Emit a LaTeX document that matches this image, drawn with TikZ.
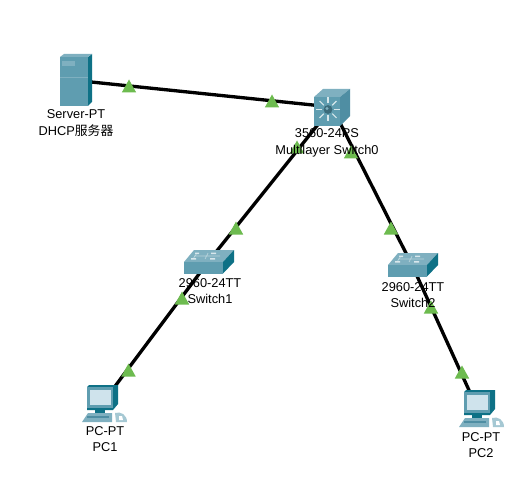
\documentclass[tikz,border=0pt]{standalone}
\usepackage{fontspec}
\setmainfont{Liberation Sans}
\newfontfamily\cjkf{Noto Sans CJK SC}
\definecolor{tealA}{HTML}{5F9DB0}
\definecolor{tealB}{HTML}{7FB0C0}
\definecolor{tealC}{HTML}{0E7186}
\definecolor{tealD}{HTML}{4F8EA3}
\definecolor{screenC}{HTML}{CFE3EC}
\definecolor{linkG}{HTML}{6DBB4F}
\tikzset{
  x=0.75pt,y=-0.75pt,
  anchorpt/.style={inner sep=0pt,minimum size=0pt,outer sep=0pt},
  linkline/.style={line width=2.5pt,black},
  devlabel/.style={align=center,font=\fontsize{9.6}{12.4}\selectfont,inner sep=0pt,text=black},
  lamp/.pic={\fill[linkG] (-7.2,6.5) -- (0,-6.5) -- (7.2,6.5) -- cycle;},
  serverpic/.pic={
    \fill[tealC] (11,-24) -- (15,-27) -- (15,21) -- (11,25) -- cycle;
    \fill[tealB] (-17,-24) -- (-13,-27) -- (15,-27) -- (11,-24) -- cycle;
    \fill[tealA] (-17,-24) rectangle (11,25);
    \fill[tealB] (-17,-4) rectangle (11,-3.2);
    \fill[tealB] (-15,-20) rectangle (-2,-15);
  },
  mlspic/.pic={
    \fill[tealB] (-18,-10) -- (-9,-18) -- (18,-18) -- (8,-10) -- cycle;
    \fill[tealD] (8,-10) -- (18,-18) -- (18,9) -- (8,19) -- cycle;
    \fill[tealA] (-18,-10) rectangle (8,19);
    \foreach \a in {0,45,...,315}{
      \draw[white!75!tealA,line width=0.8pt] ([shift={(\a:6)}]-4,2.5) -- ([shift={(\a:12)}]-4,2.5);
    }
    \fill[tealD!75!black] (-4,2.5) circle[radius=4.4];
    \fill[tealB] (-5,1.5) circle[radius=1.6];
  },
  swpic/.pic={
    \fill[tealB] (-24,0) -- (-14,-12) -- (26,-12) -- (15,0) -- cycle;
    \fill[tealC] (15,0) -- (26,-12) -- (26,0) -- (15,11.5) -- cycle;
    \fill[tealA] (-24,0) rectangle (15,11.5);
    \draw[white!45!tealB,line width=0.5pt] (-11,-9) -- (-15,-3) (0,-9) -- (-3,-3) (-14,-6) -- (12,-6);
    \fill[white!70!tealB] (-13,-9.5) rectangle (-9,-8) (3,-9.5) rectangle (8,-8) (-17,-4) rectangle (-12,-2.5) (2,-4) rectangle (7,-2.5);
  },
  pcpic/.pic={
    \fill[tealC] (-14,-18) -- (-12,-20) -- (17,-20) -- (17,-1) -- (12,5) -- (-14,5) -- cycle;
    \fill[tealA] (-14,-18) -- (12,-18) -- (12,3) -- (-14,3) -- cycle;
    \fill[screenC] (-11,-15) rectangle (10,0);
    \fill[tealC] (-6,3) rectangle (4,8);
    \fill[tealB] (-19,17) -- (-13,8) -- (11,8) -- (11,17) -- cycle;
    \fill[tealD] (-14,11) rectangle (8,13);
    \fill[tealB!70!white] (14,8) .. controls (20,6) and (26,10) .. (26,17) -- (15,17) -- cycle;
    \fill[white] (18,11) -- (21,11) -- (22,15) -- (18,15) -- cycle;
  }
}
\begin{document}
\begin{tikzpicture}
\useasboundingbox (0,0) rectangle (531,502);
\fill[white] (0,0) rectangle (531,502);
\node[anchorpt] (server) at (72,80) {};
\node[anchorpt] (mls) at (332,107) {};
\node[anchorpt] (sw1) at (208,262) {};
\node[anchorpt] (sw2) at (412,265) {};
\node[anchorpt] (pc1) at (101,405) {};
\node[anchorpt] (pc2) at (478,410) {};
\draw[linkline] (server) -- (mls);
\draw[linkline] (mls) -- (sw1);
\draw[linkline] (mls) -- (sw2);
\draw[linkline] (sw1) -- (pc1);
\draw[linkline] (sw2) -- (pc2);
\foreach \p in {(129,86),(272,101),(297,147),(236,228),(351,152),(391,228),(182,298),(128.5,370),(431,307),(462,372)}{
  \path \p pic {lamp};
}
\path (77,81) pic {serverpic};
\path (332,107) pic {mlspic};
\path (208,262) pic {swpic};
\path (412,265) pic {swpic};
\path (101,405) pic {pcpic};
\path (478,410) pic {pcpic};
\node[devlabel] (serverlabel) at (76,123) {Server-PT\\DHCP{\cjkf 服务器}};
\node[devlabel] (mlslabel) at (327,143) {3560-24PS\\Multilayer Switch0};
\node[devlabel] (sw1label) at (210,291) {2960-24TT\\Switch1};
\node[devlabel] (sw2label) at (413,295) {2960-24TT\\Switch2};
\node[devlabel] (pc1label) at (105,439) {PC-PT\\PC1};
\node[devlabel] (pc2label) at (481,445) {PC-PT\\PC2};
\end{tikzpicture}
\end{document}
